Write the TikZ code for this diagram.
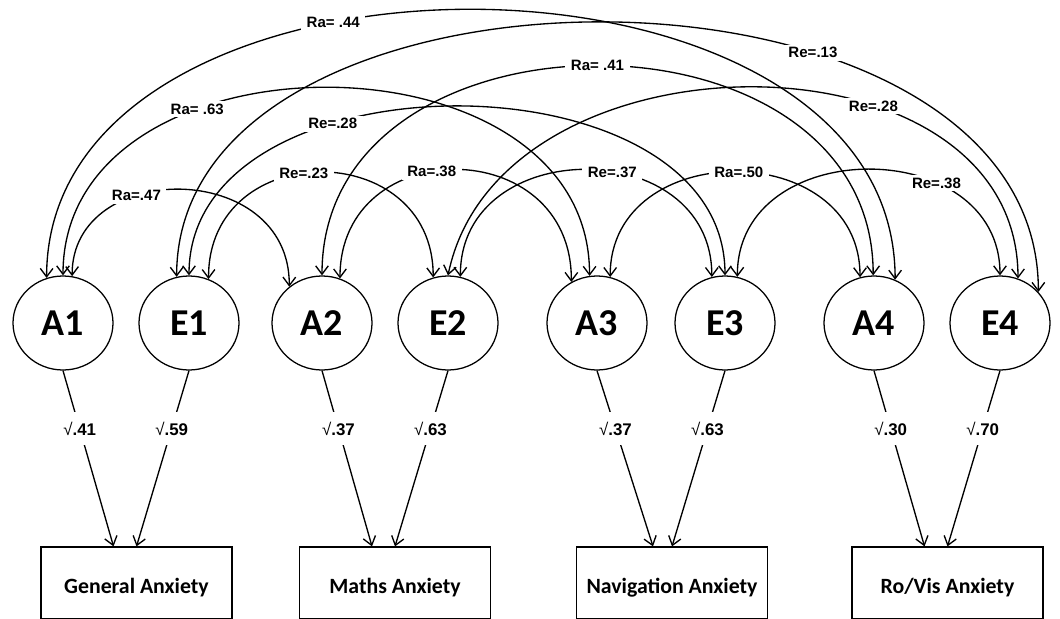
\documentclass[tikz,border=0pt]{standalone}
\usepackage{fontspec}
\setmainfont{Liberation Sans}
\newfontfamily\calibri{Carlito}
\usetikzlibrary{arrows.meta,shapes.geometric}

\begin{document}
\begin{tikzpicture}[>={Straight Barb[length=6pt,width=9pt]},
  latent/.style={draw=black, line width=0.9pt, ellipse, minimum width=2.5cm, minimum height=2.35cm, inner sep=0pt, font=\calibri\bfseries\fontsize{27}{30}\selectfont},
  observed/.style={draw=black, line width=0.9pt, rectangle, minimum width=4.775cm, minimum height=1.8cm, text height=15pt, text depth=0pt, font=\calibri\bfseries\fontsize{15.5}{18}\selectfont},
  corr/.style={<->, line width=0.95pt},
  load/.style={->, line width=0.95pt},
  rlab/.style={fill=white, inner xsep=4pt, inner ysep=2pt, font=\bfseries\fontsize{10.7}{12}\selectfont},
  llab/.style={fill=white, inner xsep=2pt, inner ysep=7pt, font=\bfseries\fontsize{12}{14}\selectfont}]
\useasboundingbox (0,0) rectangle (26.5,-15.475);
\node[latent] (A1) at (1.575,-8.075) {A1};
\node[latent] (E1) at (4.725,-8.075) {E1};
\node[latent] (A2) at (8.05,-8.075) {A2};
\node[latent] (E2) at (11.2,-8.075) {E2};
\node[latent] (A3) at (14.925,-8.075) {A3};
\node[latent] (E3) at (18.125,-8.075) {E3};
\node[latent] (A4) at (21.85,-8.075) {A4};
\node[latent] (E4) at (25.0,-8.075) {E4};
\node[observed] (GenA) at (3.4125,-14.575) {General Anxiety};
\node[observed] (MathA) at (9.875,-14.575) {Maths Anxiety};
\node[observed] (NavA) at (16.8,-14.575) {Navigation Anxiety};
\node[observed] (RoVis) at (23.6875,-14.575) {Ro/Vis Anxiety};
\draw [load] (A1.south) -- ([xshift=-0.575cm]GenA.north) node[llab, pos=.33] {{\mdseries √}.41};
\draw [load] (E1.south) -- (GenA.north) node[llab, pos=.33] {{\mdseries √}.59};
\draw [load] (A2.south) -- ([xshift=-0.575cm]MathA.north) node[llab, pos=.33] {{\mdseries √}.37};
\draw [load] (E2.south) -- (MathA.north) node[llab, pos=.33] {{\mdseries √}.63};
\draw [load] (A3.south) -- ([xshift=-0.475cm]NavA.north) node[llab, pos=.33] {{\mdseries √}.37};
\draw [load] (E3.south) -- (NavA.north) node[llab, pos=.33] {{\mdseries √}.63};
\draw [load] (A4.south) -- ([xshift=-0.575cm]RoVis.north) node[llab, pos=.33] {{\mdseries √}.30};
\draw [load] (E4.south) -- (RoVis.north) node[llab, pos=.33] {{\mdseries √}.70};
\draw [corr] (A1.110) .. controls (1.175,2.0) and (22.375,2.0) .. (A4.64) node[rlab, pos=.39] {Ra= .44};
\draw [corr] (E1.105) .. controls (4.425,1.625) and (25.95,1.625) .. (E4.39) node[rlab, pos=.665] {Re=.13};
\draw [corr] (A1.90) .. controls (1.575,-0.625) and (14.75,-0.625) .. (A3.99) node[rlab, pos=.33] {Ra= .63};
\draw [corr] (E1.90) .. controls (4.725,-1.25) and (18.125,-1.25) .. (E3.90) node[rlab, pos=.34] {Re=.28};
\draw [corr] (A2.90) .. controls (8.05,0.1) and (21.825,0.1) .. (A4.91) node[rlab, pos=.5] {Ra= .41};
\draw [corr] (E2.90) .. controls (12.5,-0.6) and (25.45,-0.6) .. (E4.68) node[rlab, pos=.655] {Re=.28};
\draw [corr] (A1.79) .. controls (1.8,-3.975) and (7.25,-3.975) .. (A2.132) node[rlab, pos=.36] {Ra=.47};
\draw [corr] (E1.66) .. controls (5.2,-3.425) and (10.825,-3.425) .. (E2.108) node[rlab, pos=.45] {Re=.23};
\draw [corr] (A2.68) .. controls (8.5,-3.325) and (14.3,-3.325) .. (A3.122) node[rlab, pos=.43] {Ra=.38};
\draw [corr] (E2.75) .. controls (11.5,-3.35) and (17.8,-3.35) .. (E3.106) node[rlab, pos=.57] {Re=.37};
\draw [corr] (A3.74) .. controls (15.25,-3.425) and (21.5,-3.425) .. (A4.107) node[rlab, pos=.51] {Ra=.50};
\draw [corr] (E3.75) .. controls (18.425,-3.35) and (25.0,-3.35) .. (E4.90) node[rlab, pos=.68] {Re=.38};
\end{tikzpicture}
\end{document}
